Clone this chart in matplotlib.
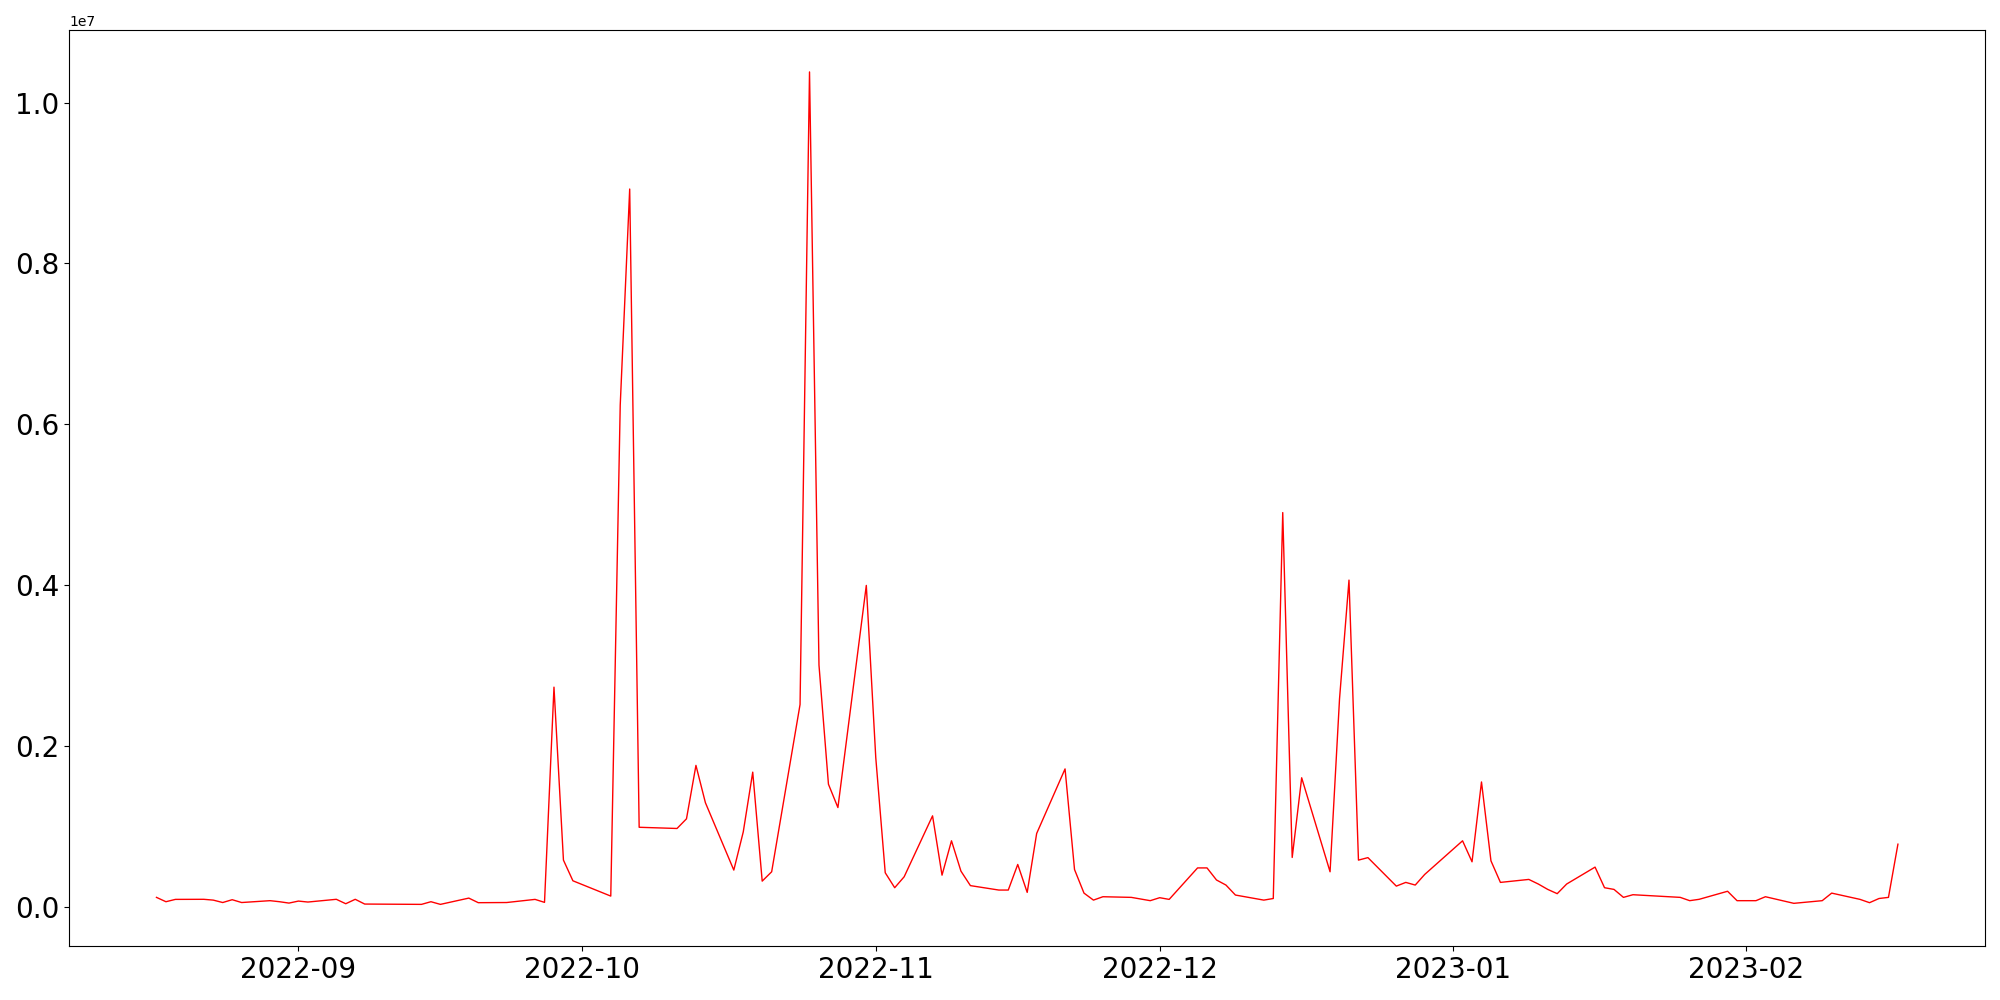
import pandas as pd
import matplotlib
matplotlib.use("Agg")
import matplotlib.pyplot as plt

# dates and values
dates = [
    "2022-08-17", "2022-08-18", "2022-08-19", "2022-08-22", "2022-08-23",
    "2022-08-24", "2022-08-25", "2022-08-26", "2022-08-29", "2022-08-30",
    "2022-08-31", "2022-09-01", "2022-09-02", "2022-09-05", "2022-09-06",
    "2022-09-07", "2022-09-08", "2022-09-14", "2022-09-15", "2022-09-16",
    "2022-09-19", "2022-09-20", "2022-09-23", "2022-09-26", "2022-09-27",
    "2022-09-28", "2022-09-29", "2022-09-30", "2022-10-04", "2022-10-05",
    "2022-10-06", "2022-10-07", "2022-10-11", "2022-10-12", "2022-10-13",
    "2022-10-14", "2022-10-17", "2022-10-18", "2022-10-19", "2022-10-20",
    "2022-10-21", "2022-10-24", "2022-10-25", "2022-10-26", "2022-10-27",
    "2022-10-28", "2022-10-31", "2022-11-01", "2022-11-02", "2022-11-03",
    "2022-11-04", "2022-11-07", "2022-11-08", "2022-11-09", "2022-11-10",
    "2022-11-11", "2022-11-14", "2022-11-15", "2022-11-16", "2022-11-17",
    "2022-11-18", "2022-11-21", "2022-11-22", "2022-11-23", "2022-11-24",
    "2022-11-25", "2022-11-28", "2022-11-30", "2022-12-01", "2022-12-02",
    "2022-12-05", "2022-12-06", "2022-12-07", "2022-12-08", "2022-12-09",
    "2022-12-12", "2022-12-13", "2022-12-14", "2022-12-15", "2022-12-16",
    "2022-12-19", "2022-12-20", "2022-12-21", "2022-12-22", "2022-12-23",
    "2022-12-26", "2022-12-27", "2022-12-28", "2022-12-29", "2023-01-02",
    "2023-01-03", "2023-01-04", "2023-01-05", "2023-01-06", "2023-01-09",
    "2023-01-10", "2023-01-11", "2023-01-12", "2023-01-13", "2023-01-16",
    "2023-01-17", "2023-01-18", "2023-01-19", "2023-01-20", "2023-01-25",
    "2023-01-26", "2023-01-27", "2023-01-30", "2023-01-31", "2023-02-01",
    "2023-02-02", "2023-02-03", "2023-02-06", "2023-02-09", "2023-02-10",
    "2023-02-13", "2023-02-14", "2023-02-15", "2023-02-16", "2023-02-17",
]

values = [
    124000, 70000, 99000, 100000, 90000,
    60000, 95000, 60000, 83000, 70000,
    53000, 78000, 66000, 100000, 45000,
    100000, 41000, 37000, 70000, 37000,
    115000, 58000, 60000, 99000, 62000,
    2736000, 587000, 330000, 140000, 6240000,
    8925000, 995000, 980000, 1100000, 1764000,
    1300000, 463000, 938000, 1680000, 326000,
    442000, 2520000, 10380000, 3010000, 1530000,
    1240000, 4000000, 1860000, 430000, 244000,
    380000, 1137000, 400000, 827000, 450000,
    270000, 215000, 215000, 533000, 186000,
    918000, 1720000, 470000, 177000, 90000,
    132000, 124000, 83000, 120000, 99000,
    490000, 490000, 340000, 277000, 153000,
    90000, 110000, 4905000, 620000, 1610000,
    442000, 2590000, 4066000, 587000, 618000,
    264000, 310000, 277000, 409000, 827000,
    566000, 1558000, 578000, 310000, 347000,
    290000, 223000, 170000, 290000, 500000,
    244000, 223000, 124000, 157000, 124000,
    83000, 100000, 200000, 83000, 83000,
    83000, 132000, 50000, 83000, 177000,
    99000, 58000, 110000, 124000, 785000,
]

data = pd.Series(values, index=pd.to_datetime(dates))

fig, ax = plt.subplots(figsize=(20, 10), dpi=100)
ax.plot(data.index, data.values, color="red", linewidth=1.0)
ax.tick_params(axis="both", labelsize=20)

fig.subplots_adjust(left=0.0347, right=0.9925, top=0.9697, bottom=0.054)
fig.savefig("out.png")
